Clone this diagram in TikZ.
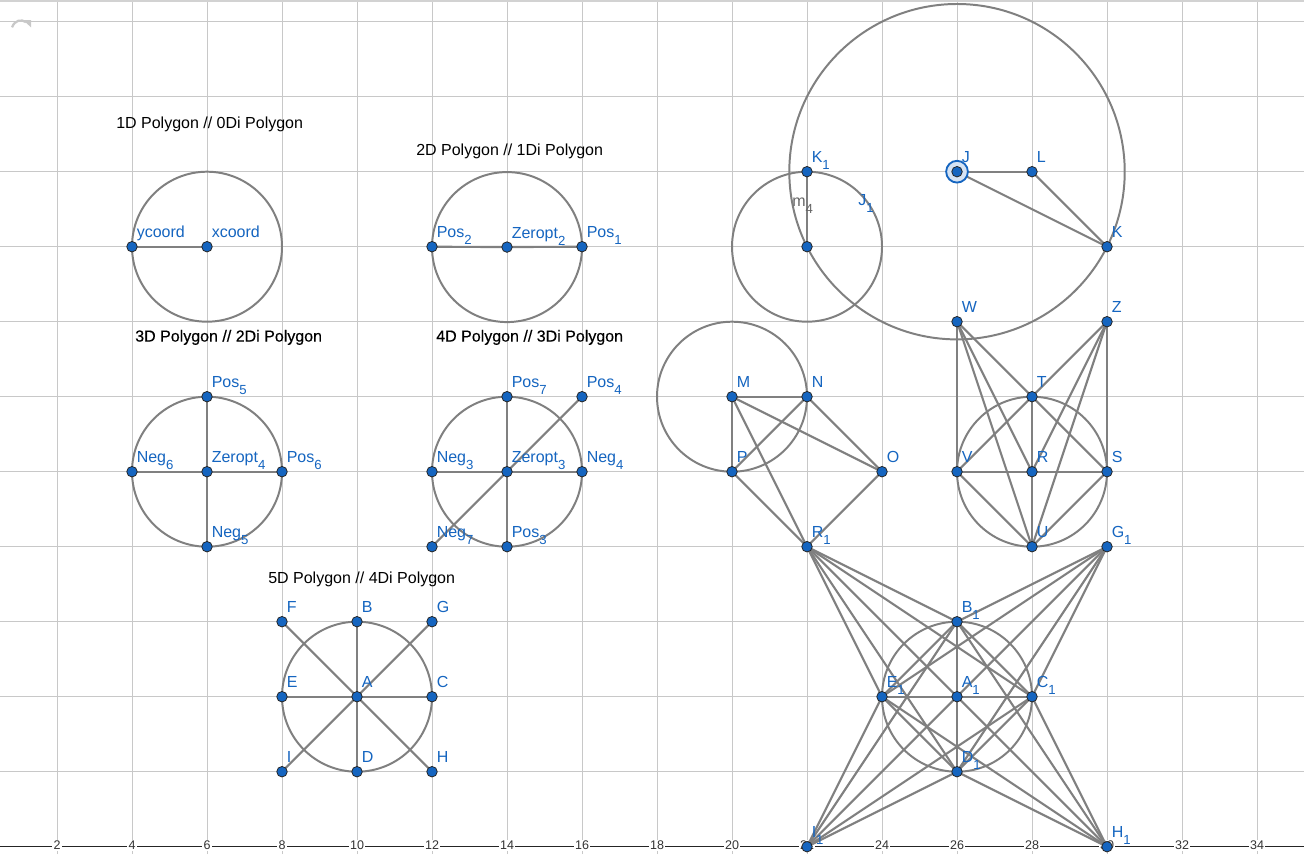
\documentclass[tikz,border=0pt]{standalone}
\usepackage{fontspec}
\setmainfont{Liberation Sans}
\newfontface\ggheavy{Liberation Sans}[FakeBold=0.35]
\usetikzlibrary{calc}
\definecolor{ggblue}{RGB}{21,101,192}
\definecolor{seggray}{RGB}{128,128,128}
\definecolor{gridgray}{RGB}{200,200,200}
\definecolor{axisgray}{RGB}{37,37,37}
\definecolor{icongray}{RGB}{200,200,200}
\newcommand{\ggsub}[1]{\raisebox{-5.3pt}{\fontsize{10}{10}\selectfont #1}}
\newcommand{\ggfont}{\fontsize{12.14}{14}\selectfont}
\begin{document}
\begin{tikzpicture}[x=1cm,y=1cm,
  seg/.style={draw=seggray, line width=1.6pt},
  circ/.style={draw=seggray, line width=1.5pt},
  pt/.style={circle, fill=ggblue, draw=black!85, line width=0.6pt, minimum size=0.28cm, inner sep=0pt},
  lbl/.style={anchor=base west, inner sep=0pt, text=ggblue, font=\ggfont},
  ttl/.style={anchor=base west, inner sep=0pt, text=black, font=\ggfont},
  ttlh/.style={anchor=base west, inner sep=0pt, text=black, font=\ggheavy\ggfont},
  tick/.style={fill=white, inner sep=0.8pt, text=black!80, font=\fontsize{9.5}{10}\selectfont},
]
\useasboundingbox (0.48,-0.195) rectangle (35.253,22.579);
\fill[white] (0.48,-0.195) rectangle (35.253,22.579);
% grid
\foreach \x in {2,4,...,34} \draw[gridgray, line width=0.75pt] (\x,-0.195) -- (\x,22.579);
\foreach \y in {2,4,...,22} \draw[gridgray, line width=0.75pt] (0.48,\y) -- (35.253,\y);
% top shadow and icon
\fill[gray!35] (0.48,22.52) rectangle (35.253,22.579);
\draw[icongray, line width=1.7pt] (0.80,21.85) .. controls (0.88,22.05) and (1.05,22.07) .. (1.17,21.99);
\fill[icongray] (1.10,22.04) -- (1.307,22.04) -- (1.307,21.85) -- cycle;
% axis
\coordinate (axL) at (0.48,0);
\coordinate (axR) at (35.253,0);
\draw[axisgray, line width=0.9pt] (axL) -- (axR);
\foreach \x in {2,4,...,34} \node[tick] (tk\x) at (\x,0.03) {\x};

% titles
\node[ttl] (t1) at (3.573,19.165) {1D Polygon // 0Di Polygon};
\node[ttl] (t2) at (11.573,18.445) {2D Polygon // 1Di Polygon};
\node[ttlh] (t3) at (4.08,13.47) {3D Polygon // 2Di Polygon};
\node[ttlh] (t4) at (12.107,13.47) {4D Polygon // 3Di Polygon};
\node[ttl] (t5) at (7.627,7.03) {5D Polygon // 4Di Polygon};

% coordinates
\coordinate (ycoord) at (4,16); \coordinate (xcoord) at (6,16);
\coordinate (Pos2) at (12,16); \coordinate (Zeropt2) at (14,15.99); \coordinate (Pos1) at (16,16);
\coordinate (Pos5) at (6,12); \coordinate (Neg6) at (4,10); \coordinate (Zeropt4) at (6,10);
\coordinate (Pos6) at (8,10); \coordinate (Neg5) at (6,8);
\coordinate (Pos7) at (14,12); \coordinate (Pos4) at (16,12); \coordinate (Neg3) at (12,10);
\coordinate (Zeropt3) at (14,10); \coordinate (Neg4) at (16,10); \coordinate (Neg7) at (12,8);
\coordinate (Pos3) at (14,8);
\coordinate (F) at (8,6); \coordinate (B) at (10,6); \coordinate (G) at (12,6);
\coordinate (E) at (8,4); \coordinate (A) at (10,4); \coordinate (C) at (12,4);
\coordinate (I) at (8,2); \coordinate (D) at (10,2); \coordinate (H) at (12,2);
\coordinate (J) at (26,18); \coordinate (L) at (28,18); \coordinate (K) at (30,16);
\coordinate (K1) at (22,18); \coordinate (Jc) at (22,16);
\coordinate (M) at (20,12); \coordinate (N) at (22,12); \coordinate (O) at (24,10);
\coordinate (P) at (20,10); \coordinate (R1) at (22,8);
\coordinate (W) at (26,14); \coordinate (Z) at (30,14); \coordinate (T) at (28,12);
\coordinate (V) at (26,10); \coordinate (R) at (28,10); \coordinate (S) at (30,10);
\coordinate (U) at (28,8); \coordinate (G1) at (30,8);
\coordinate (B1) at (26,6); \coordinate (E1) at (24,4); \coordinate (A1) at (26,4);
\coordinate (C1) at (28,4); \coordinate (D1) at (26,2); \coordinate (I1) at (22,0);
\coordinate (H1) at (30,0);

% circles
\draw[circ] (xcoord) circle (2);
\draw[circ] (Zeropt2) circle (2);
\draw[circ] (Zeropt4) circle (2);
\draw[circ] (Zeropt3) circle (2);
\draw[circ] (A) circle (2);
\draw[circ] (J) circle (4.4721);
\draw[circ] (Jc) circle (2);
\draw[circ] (M) circle (2);
\draw[circ] (R) circle (2);
\draw[circ] (A1) circle (2);

% segments
\draw[seg] (ycoord) -- (xcoord);
\draw[seg] (Pos2) -- (Zeropt2) -- (Pos1);
\draw[seg] (Pos5) -- (Neg5); \draw[seg] (Neg6) -- (Pos6);
\draw[seg] (Pos7) -- (Pos3); \draw[seg] (Neg3) -- (Neg4); \draw[seg] (Pos4) -- (Neg7);
\draw[seg] (B) -- (D); \draw[seg] (E) -- (C); \draw[seg] (F) -- (H); \draw[seg] (G) -- (I);
\draw[seg] (J) -- (L); \draw[seg] (L) -- (K); \draw[seg] (J) -- (K);
\draw[seg] (K1) -- (Jc);
\foreach \a/\b in {M/N, M/P, M/O, M/R1, N/P, N/O, P/R1, O/R1} \draw[seg] (\a) -- (\b);
\foreach \a/\b in {W/V, Z/S, W/S, Z/V, W/R, W/U, Z/R, Z/U, V/S, T/U, V/U, S/U} \draw[seg] (\a) -- (\b);
\foreach \a/\b in {B1/D1, E1/C1, E1/B1, B1/C1, C1/D1, D1/E1, R1/H1, G1/I1} \draw[seg] (\a) -- (\b);
\foreach \o in {R1,G1,I1,H1} \foreach \q in {B1,C1,D1,E1} \draw[seg] (\o) -- (\q);

% labels for circle/segment
\node[anchor=base west, inner sep=0pt, text=black!60, font=\ggfont] (m4) at (21.6,17.06) {m\ggsub{4}};
\node[lbl] (J1lab) at (23.36,17.11) {J\ggsub{1}};

% highlight of J
\draw[ggblue, line width=1.4pt, fill=ggblue!18] (J) circle (0.29);

% points and labels
\foreach \n/\t in {ycoord/ycoord, xcoord/xcoord, Pos2/{Pos\ggsub{2}}, Zeropt2/{Zeropt\ggsub{2}}, Pos1/{Pos\ggsub{1}},
  Pos5/{Pos\ggsub{5}}, Neg6/{Neg\ggsub{6}}, Zeropt4/{Zeropt\ggsub{4}}, Pos6/{Pos\ggsub{6}}, Neg5/{Neg\ggsub{5}},
  Pos7/{Pos\ggsub{7}}, Pos4/{Pos\ggsub{4}}, Neg3/{Neg\ggsub{3}}, Zeropt3/{Zeropt\ggsub{3}}, Neg4/{Neg\ggsub{4}},
  Neg7/{Neg\ggsub{7}}, Pos3/{Pos\ggsub{3}},
  F/F, B/B, G/G, E/E, A/A, C/C, I/I, D/D, H/H,
  J/J, L/L, K/K, K1/{K\ggsub{1}},
  M/M, N/N, O/O, P/P, R1/{R\ggsub{1}},
  W/W, Z/Z, T/T, V/V, R/R, S/S, U/U, G1/{G\ggsub{1}},
  B1/{B\ggsub{1}}, E1/{E\ggsub{1}}, A1/{A\ggsub{1}}, C1/{C\ggsub{1}}, D1/{D\ggsub{1}}, I1/{I\ggsub{1}}, H1/{H\ggsub{1}}}
{
  \node[pt] (\n-p) at (\n) {};
  \node[lbl] (\n-l) at ([shift={(0.12,0.24)}]\n) {\t};
}
\node[pt] (Jc-p) at (Jc) {};
\end{tikzpicture}
\end{document}
